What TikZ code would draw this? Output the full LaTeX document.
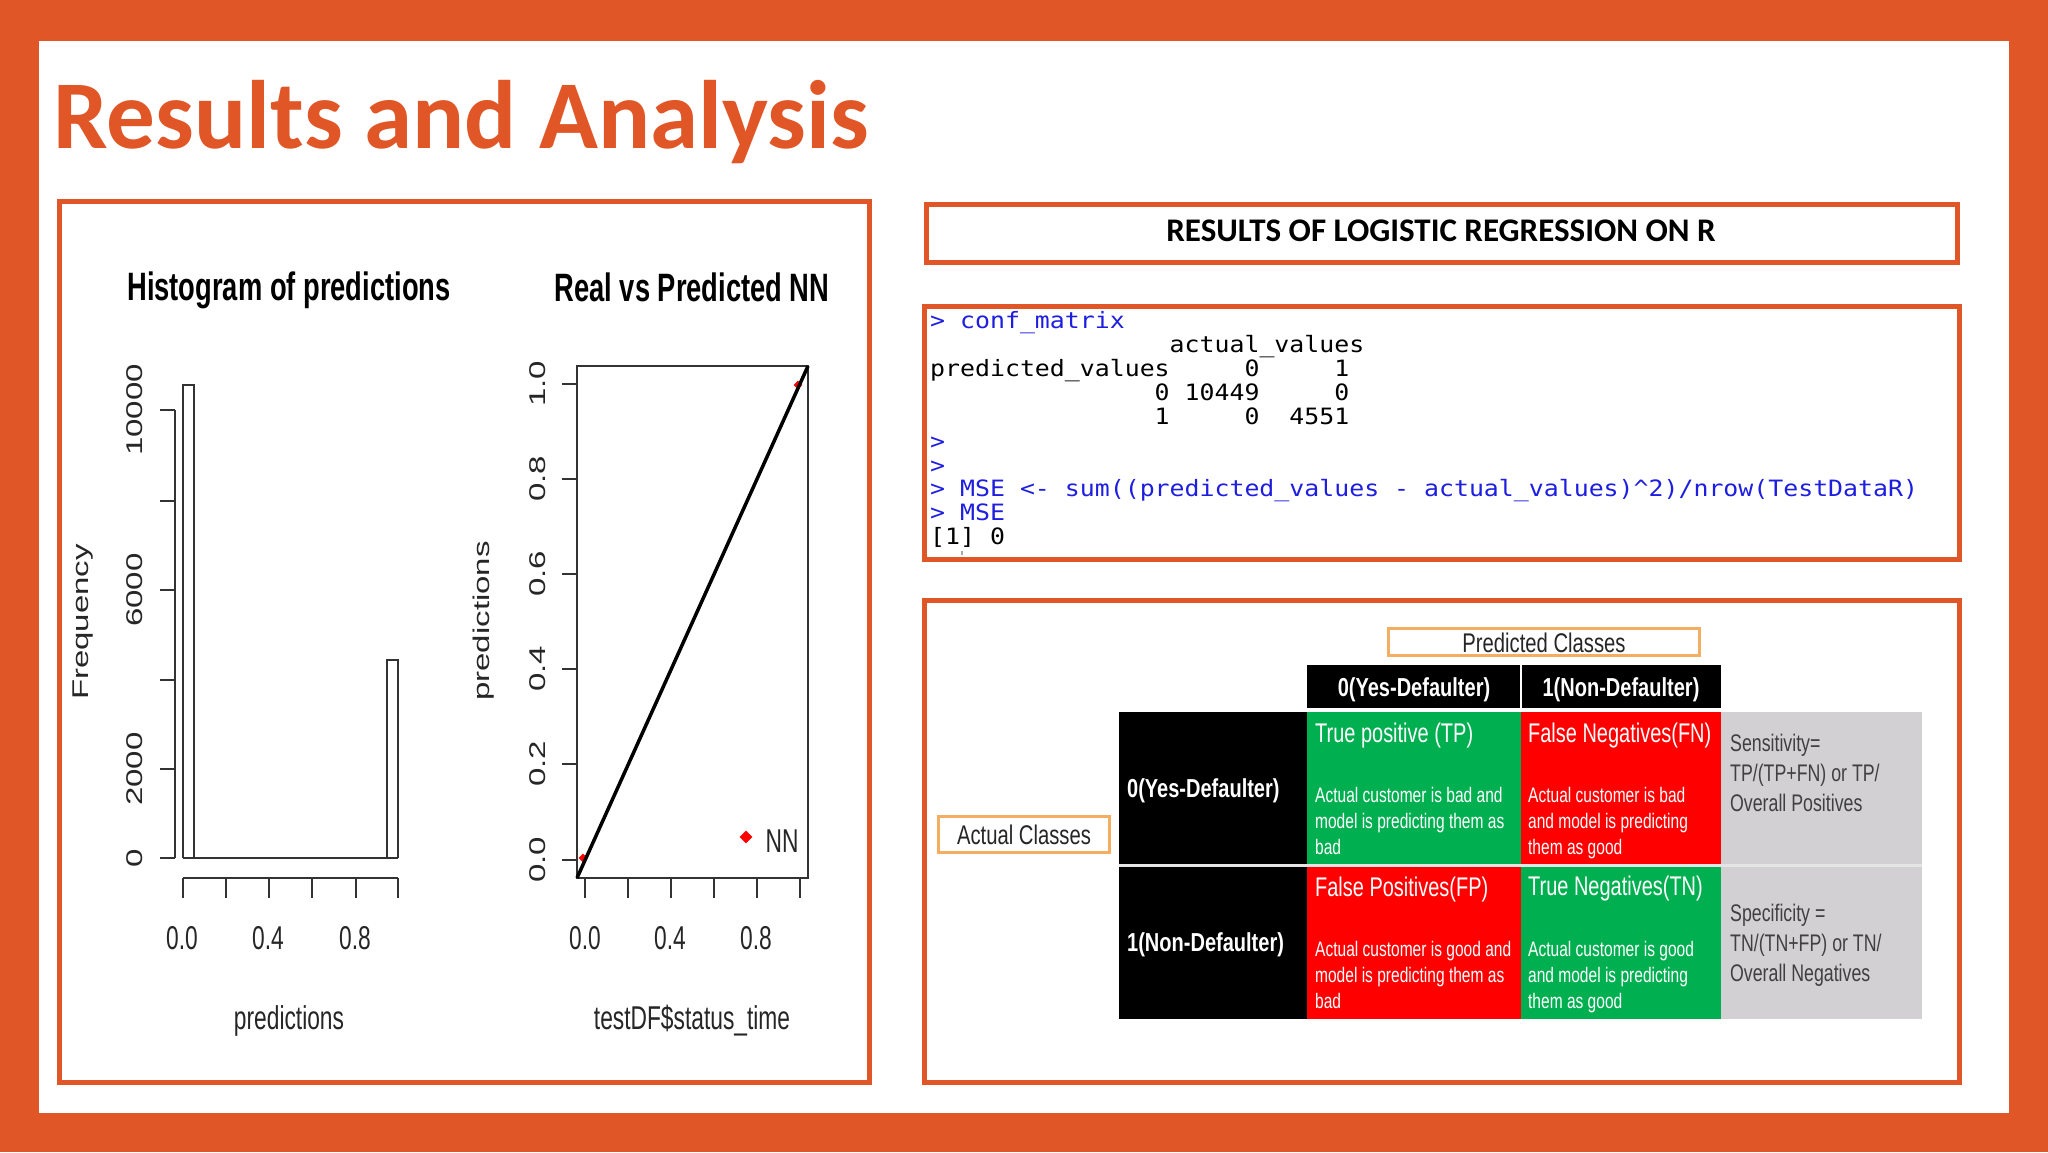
\documentclass[tikz,border=0pt]{standalone}
\usepackage{fontspec}
\usepackage{tikz}
\usetikzlibrary{shapes.geometric}
\setmainfont{Carlito}
\newfontfamily\rfont{Liberation Sans}
\newfontfamily\consolefont[FakeStretch=1.105]{DejaVu Sans Mono}
\definecolor{slide}{HTML}{E05626}
\definecolor{softorange}{HTML}{F3AE62}
\definecolor{cellgreen}{HTML}{00B050}
\definecolor{cellgray}{HTML}{D2D0D3}
\definecolor{rblue}{HTML}{1E1EE0}
\tikzset{
  panel/.style={draw=slide, line width=5pt},
  tagbox/.style={draw=softorange, line width=3pt, fill=white},
  rtext/.style={font=\rfont\fontsize{33}{38}\selectfont, text=black!85, inner sep=0, xscale=.69, transform shape},
  rtitle/.style={font=\rfont\bfseries\fontsize{39.6}{44}\selectfont, text=black, inner sep=0, xscale=.69, transform shape},
  rline/.style={line width=2.4pt, draw=black!80},
  reddot/.style={diamond, fill=red, inner sep=0, minimum size=13pt},
  smalldot/.style={diamond, fill=red, inner sep=0, minimum size=9pt},
  console/.style={font=\consolefont\fontsize{22.5}{24}\selectfont, inner sep=0, anchor=base west},
  headtext/.style={font=\rfont\bfseries\fontsize{26}{30}\selectfont, text=white, inner sep=0, xscale=.77, transform shape},
  celltitle/.style={font=\rfont\fontsize{27}{30}\selectfont, text=white, inner sep=0, anchor=west, xscale=.74, transform shape},
  cellbody/.style={font=\rfont\fontsize{21}{26}\selectfont, text=white, inner sep=0, anchor=north west, align=left, xscale=.74, transform shape},
  sidetext/.style={font=\rfont\fontsize{24}{30}\selectfont, text=black!75, inner sep=0, anchor=north west, align=left, xscale=.74, transform shape},
  tagtext/.style={font=\rfont\fontsize{27}{30}\selectfont, text=black!85, inner sep=0, xscale=.75, transform shape}
}
\begin{document}
\begin{tikzpicture}[x=1pt, y=-1pt]
  \useasboundingbox (0,0) rectangle (2048,1152);
  \fill [slide] (0,0) rectangle (2048,1152);
  \fill [white] (39,41) rectangle (2009,1113);
  \node (title) at (53,148) [anchor=base west, inner sep=0, text=slide, font=\bfseries\fontsize{97.2}{100}\selectfont] {Results and Analysis};

  % frames
  \draw [panel] (59,201) rectangle (869,1082);
  \draw [panel] (926,204) rectangle (1957,262);
  \draw [panel] (924,306) rectangle (1959,559);
  \draw [panel] (924,600) rectangle (1959,1082);
  \node (heading) at (1441,231) [inner sep=0, text=black, font=\bfseries\fontsize{33}{36}\selectfont] {RESULTS OF LOGISTIC REGRESSION ON R};

  % histogram
  \node (histtitle) at (289,290) [rtitle] {Histogram of predictions};
  \draw [rline] (175,410) -- (175,858);
  \draw [rline] (175,410) -- (160,410) (175,501) -- (160,501) (175,590) -- (160,590)
    (175,680) -- (160,680) (175,769) -- (160,769) (175,858) -- (160,858);
  \draw [rline] (183,858) -- (183,385) -- (194,385) -- (194,858);
  \draw [rline] (387,858) -- (387,660) -- (398,660) -- (398,858);
  \draw [rline] (183,858) -- (398,858);
  \draw [rline] (183,878) -- (398,878);
  \draw [rline] (183,878) -- (183,898) (226,878) -- (226,898) (269,878) -- (269,898)
    (312,878) -- (312,898) (356,878) -- (356,898) (398,878) -- (398,898);
  \node (histy0) at (135,858) [rtext, rotate=90] {0};
  \node (histy1) at (135,769) [rtext, rotate=90] {2000};
  \node (histy2) at (135,590) [rtext, rotate=90] {6000};
  \node (histy3) at (135,410) [rtext, rotate=90] {10000};
  \node (histx0) at (182,938) [rtext] {0.0};
  \node (histx1) at (268,938) [rtext] {0.4};
  \node (histx2) at (355,938) [rtext] {0.8};
  \node (histylab) at (83,622) [rtext, rotate=90] {Frequency};
  \node (histxlab) at (289,1021) [rtext] {predictions};

  % real vs predicted
  \node (nntitle) at (692,287) [rtitle] {Real vs Predicted NN};
  \draw [rline] (577,366) rectangle (808,878);
  \draw [rline] (577,384) -- (562,384) (577,479) -- (562,479) (577,574) -- (562,574)
    (577,669) -- (562,669) (577,764) -- (562,764) (577,860) -- (562,860);
  \draw [rline] (585,878) -- (585,898) (628,878) -- (628,898) (671,878) -- (671,898)
    (714,878) -- (714,898) (757,878) -- (757,898) (800,878) -- (800,898);
  \node (lowdot) at (583,858) [smalldot] {};
  \node (highdot) at (798,385) [smalldot] {};
  \draw [line width=3.5pt, black] (577,878) -- (808,366);
  \node (nny0) at (537.5,860) [rtext, rotate=90] {0.0};
  \node (nny1) at (537.5,764) [rtext, rotate=90] {0.2};
  \node (nny2) at (537.5,669) [rtext, rotate=90] {0.4};
  \node (nny3) at (537.5,574) [rtext, rotate=90] {0.6};
  \node (nny4) at (537.5,479) [rtext, rotate=90] {0.8};
  \node (nny5) at (537.5,384) [rtext, rotate=90] {1.0};
  \node (nnx0) at (585,938) [rtext] {0.0};
  \node (nnx1) at (670,938) [rtext] {0.4};
  \node (nnx2) at (756,938) [rtext] {0.8};
  \node (nnylab) at (484,621) [rtext, rotate=90] {predictions};
  \node (nnxlab) at (692,1021) [rtext] {testDF\$status\_time};
  \node (legenddot) at (746,837) [reddot] {};
  \node (legendtext) at (782,841) [rtext] {NN};

  % console output
  \node (line0) at (930,328) [console, text=rblue] {> conf\_matrix};
  \node (line1) at (930,352) [console, text=black] {~~~~~~~~~~~~~~~~actual\_values};
  \node (line2) at (930,376) [console, text=black] {predicted\_values~~~~~0~~~~~1};
  \node (line3) at (930,400) [console, text=black] {~~~~~~~~~~~~~~~0~10449~~~~~0};
  \node (line4) at (930,424) [console, text=black] {~~~~~~~~~~~~~~~1~~~~~0~~4551};
  \node (line5) at (930,449) [console, text=rblue] {>};
  \node (line6) at (930,473) [console, text=rblue] {>};
  \node (line7) at (930,496) [console, text=rblue] {> MSE <- sum((predicted\_values - actual\_values)\textasciicircum 2)/nrow(TestDataR)};
  \node (line8) at (930,520) [console, text=rblue] {> MSE};
  \node (line9) at (930,544) [console, text=black] {[1] 0};
  \draw [line width=1.5pt, black!35] (962,551) -- (962,555);

  % confusion table
  \fill [black] (1307,665) rectangle (1721,708);
  \fill [black] (1119,712) rectangle (1307,1019);
  \fill [cellgreen] (1307,712) rectangle (1521,865);
  \fill [red] (1521,712) rectangle (1721,865);
  \fill [red] (1307,865) rectangle (1521,1019);
  \fill [cellgreen] (1521,865) rectangle (1721,1019);
  \fill [cellgray] (1721,712) rectangle (1922,1019);
  \draw [line width=2pt, white] (1521,665) -- (1521,708);
  \draw [line width=3pt, black!10] (1119,865) -- (1922,865);

  \draw [tagbox] (1388,628) rectangle (1699,655);
  \draw [tagbox] (938,816) rectangle (1109,852);
  \node (predtag) at (1544,643) [tagtext] {Predicted Classes};
  \node (actualtag) at (1024,835) [tagtext] {Actual Classes};

  \node (headyes) at (1414,690) [headtext] {0(Yes-Defaulter)};
  \node (headno) at (1621,690) [headtext] {1(Non-Defaulter)};
  \node (rowyes) at (1127,791) [headtext, anchor=west] {0(Yes-Defaulter)};
  \node (rowno) at (1127,945) [headtext, anchor=west] {1(Non-Defaulter)};

  \node (tptitle) at (1315,736) [celltitle] {True positive (TP)};
  \node (fntitle) at (1528,736) [celltitle] {False Negatives(FN)};
  \node (fptitle) at (1315,889) [celltitle] {False Positives(FP)};
  \node (tntitle) at (1528,889) [celltitle] {True Negatives(TN)};
  \node (tpbody) at (1315,787) [cellbody] {Actual customer is bad and\\model is predicting them as\\bad};
  \node (fnbody) at (1528,787) [cellbody] {Actual customer is bad\\and model is predicting\\them as good};
  \node (fpbody) at (1315,941) [cellbody] {Actual customer is good and\\model is predicting them as\\bad};
  \node (tnbody) at (1528,941) [cellbody] {Actual customer is good\\and model is predicting\\them as good};
  \node (sensitivity) at (1730,734) [sidetext] {Sensitivity=\\TP/(TP+FN) or TP/\\Overall Positives};
  \node (specificity) at (1730,904) [sidetext] {Specificity =\\TN/(TN+FP) or TN/\\Overall Negatives};
\end{tikzpicture}
\end{document}
